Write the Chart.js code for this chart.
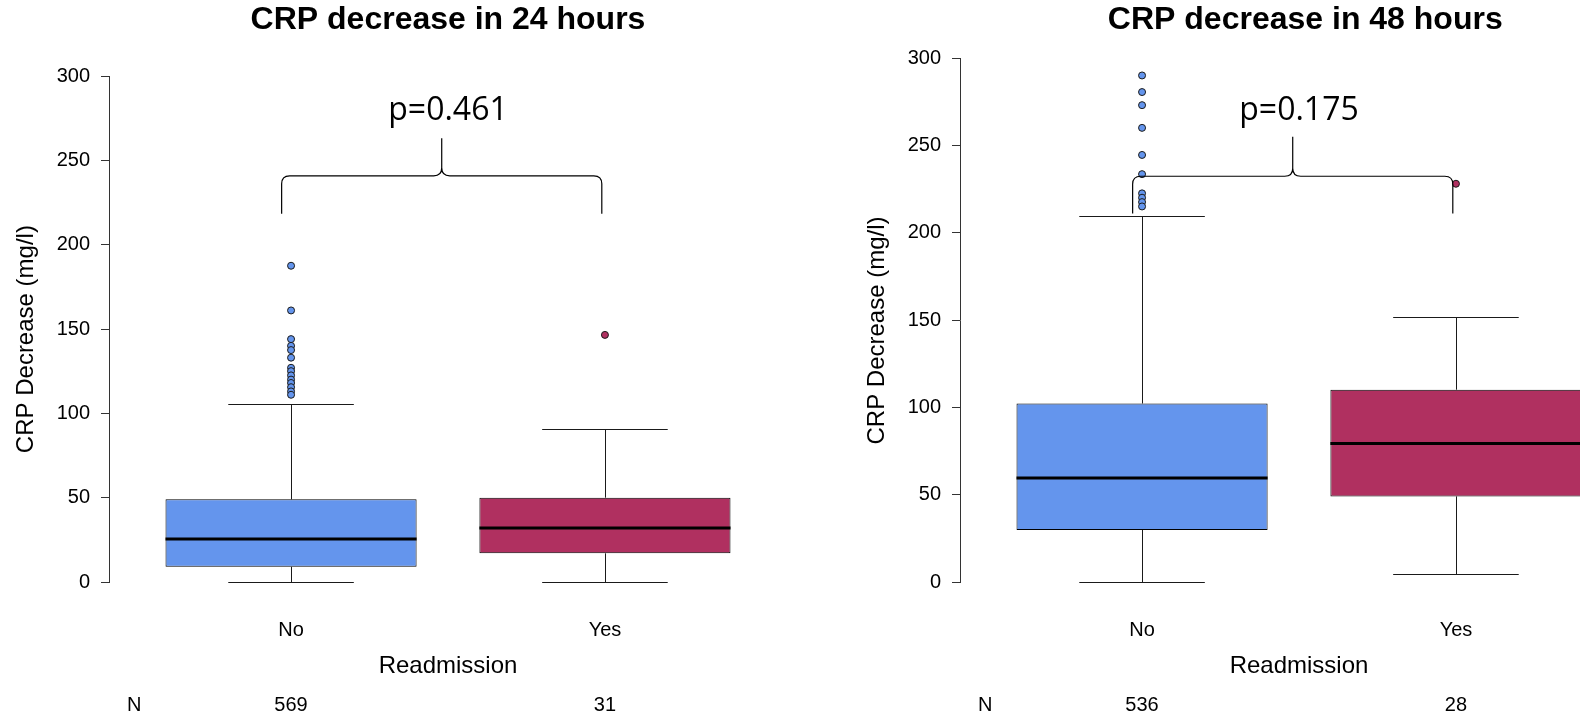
<!DOCTYPE html>
<html>
<head>
<meta charset="utf-8">
<script src="https://cdn.jsdelivr.net/npm/chart.js@4.4.1/dist/chart.umd.min.js"></script>
<style>
  html, body { margin: 0; padding: 0; width: 1580px; height: 719px; overflow: hidden; background: #fff; }
  #w1 { position: absolute; left: 1px; top: 0; width: 850px; height: 719px; }
  #w2 { position: absolute; left: 852px; top: 0; width: 850px; height: 719px; }
</style>
</head>
<body>
<div id="w1"><canvas id="c1" width="850" height="719"></canvas></div>
<div id="w2"><canvas id="c2" width="850" height="719"></canvas></div>
<script>
// ---------------- data ----------------
const categories = ['No', 'Yes'];
const yTickValues = [0, 50, 100, 150, 200, 250, 300];

// CRP decrease in 24 hours
const whiskerLow24 = [0, 0];
const q1_24 = [9.0, 17.0];
const median24 = [25.5, 32.0];
const q3_24 = [49.0, 50.0];
const whiskerHigh24 = [105.5, 91.0];
const outliersNo24 = [187.5, 161, 144, 140, 137.5, 133, 127, 125, 122.5, 120, 118, 115.5, 113, 111];
const outliersYes24 = [146.5];
const n24 = [569, 31];
const p24 = 'p=0.461';

// CRP decrease in 48 hours
const whiskerLow48 = [0, 4.8];
const q1_48 = [29.8, 49.0];
const median48 = [59.6, 79.3];
const q3_48 = [102.2, 110.1];
const whiskerHigh48 = [209.7, 151.7];
const outliersNo48 = [290, 280.5, 273, 260, 244.5, 233.5, 222.5, 220, 217.5, 215];
const outliersYes48 = [228];
const n48 = [536, 28];
const p48 = 'p=0.175';

// ---------------- styles ----------------
const boxColors = ['#6495ED', '#B03060'];
const FONT = "'Liberation Sans', Arial, sans-serif";

function makeChart(canvasId, o) {
  const boxData = categories.map((c, i) => ({ x: i + 1, y: [o.q1[i], o.q3[i]] }));
  const outData = [];
  const outColors = [];
  o.outliers.forEach((arr, i) => arr.forEach(v => { outData.push({ x: i + 1, y: v }); outColors.push(boxColors[i]); }));

  const boxPlugin = {
    id: 'boxExtras',
    beforeDatasetsDraw(chart) {
      const ctx = chart.ctx, xs = chart.scales.x, ys = chart.scales.y;
      ctx.save();
      ctx.strokeStyle = '#1a1a1a';
      ctx.lineWidth = 1;
      categories.forEach((c, i) => {
        const x = Math.round(xs.getPixelForValue(i + 1)) + 0.5;
        const xl = xs.getPixelForValue(i + 1 - 0.2), xr = xs.getPixelForValue(i + 1 + 0.2);
        const yHi = Math.round(ys.getPixelForValue(o.hi[i])) + 0.5;
        const yLo = Math.round(ys.getPixelForValue(o.lo[i])) + 0.5;
        ctx.beginPath();
        ctx.moveTo(x, ys.getPixelForValue(o.q3[i])); ctx.lineTo(x, yHi);
        ctx.moveTo(x, ys.getPixelForValue(o.q1[i])); ctx.lineTo(x, yLo);
        ctx.moveTo(xl, yHi); ctx.lineTo(xr, yHi);
        ctx.moveTo(xl, yLo); ctx.lineTo(xr, yLo);
        ctx.stroke();
      });
      ctx.restore();
    },
    afterDatasetsDraw(chart) {
      const ctx = chart.ctx, xs = chart.scales.x, ys = chart.scales.y;
      ctx.save();
      // medians
      ctx.strokeStyle = '#000';
      ctx.lineWidth = 3;
      categories.forEach((c, i) => {
        const xl = xs.getPixelForValue(i + 1 - 0.4), xr = xs.getPixelForValue(i + 1 + 0.4);
        const y = ys.getPixelForValue(o.median[i]);
        ctx.beginPath(); ctx.moveTo(xl, y); ctx.lineTo(xr, y); ctx.stroke();
      });
      // brace
      const b = o.brace;
      const xa = xs.getPixelForValue(b.from), xb = xs.getPixelForValue(b.to);
      const xm = (xa + xb) / 2;
      const yH = ys.getPixelForValue(b.y), yE = ys.getPixelForValue(b.end), yP = ys.getPixelForValue(b.peak);
      const r = 8;
      ctx.strokeStyle = '#000';
      ctx.lineWidth = 1.2;
      ctx.beginPath();
      ctx.moveTo(xa, yE);
      ctx.lineTo(xa, yH + r);
      ctx.quadraticCurveTo(xa, yH, xa + r, yH);
      ctx.lineTo(xm - r, yH);
      ctx.quadraticCurveTo(xm, yH, xm, yH - r);
      ctx.lineTo(xm, yP);
      ctx.moveTo(xm, yH - r);
      ctx.quadraticCurveTo(xm, yH, xm + r, yH);
      ctx.lineTo(xb - r, yH);
      ctx.quadraticCurveTo(xb, yH, xb, yH + r);
      ctx.lineTo(xb, yE);
      ctx.stroke();
      // p text
      ctx.fillStyle = '#000';
      ctx.font = "32px 'Open Sans', sans-serif";
      ctx.textAlign = 'center';
      ctx.textBaseline = 'alphabetic';
      ctx.fillText(o.p, xs.getPixelForValue(1.5), ys.getPixelForValue(b.textY));
      ctx.restore();
    },
    afterDraw(chart) {
      const ctx = chart.ctx, xs = chart.scales.x, ys = chart.scales.y;
      ctx.save();
      ctx.fillStyle = '#000';
      // main title
      ctx.font = 'bold 32px ' + FONT;
      ctx.textAlign = 'center';
      ctx.textBaseline = 'alphabetic';
      ctx.fillText(o.title, xs.getPixelForValue(o.titleX), 29);
      // y-axis title
      ctx.save();
      ctx.font = '24px ' + FONT;
      ctx.textBaseline = 'middle';
      ctx.translate(chart.chartArea.left - 83, ys.getPixelForValue(144));
      ctx.rotate(-Math.PI / 2);
      ctx.fillText('CRP Decrease (mg/l)', 0, 0);
      ctx.restore();
      // N row
      ctx.font = '20px ' + FONT;
      ctx.textAlign = 'center';
      ctx.textBaseline = 'middle';
      const y = chart.height - 14;
      ctx.fillText('N', xs.getPixelForValue(0.5), y);
      o.n.forEach((v, i) => ctx.fillText(String(v), xs.getPixelForValue(i + 1), y));
      ctx.restore();
    }
  };

  return new Chart(document.getElementById(canvasId), {
    type: 'bar',
    data: {
      datasets: [
        {
          type: 'scatter', data: outData, order: 0,
          pointRadius: 3.5, pointBackgroundColor: outColors, pointBorderColor: '#1a1a1a', pointBorderWidth: 1
        },
        {
          type: 'bar', data: boxData, order: 1,
          backgroundColor: boxColors, borderColor: '#000', borderWidth: 1, borderSkipped: false,
          categoryPercentage: 1, barPercentage: 0.8
        }
      ]
    },
    options: {
      responsive: false,
      animation: false,
      devicePixelRatio: 1,
      layout: { padding: { left: 0, right: 64, top: o.top, bottom: 0 } },
      plugins: {
        legend: { display: false },
        tooltip: { enabled: false },
        title: { display: false }
      },
      scales: {
        x: {
          type: 'linear', min: 0.42, max: 2.58, offset: false,
          grid: { display: false, drawTicks: false },
          border: { display: false },
          afterBuildTicks: s => { s.ticks = categories.map((c, i) => ({ value: i + 1 })); },
          afterFit: s => { s.height = 137; },
          ticks: {
            autoSkip: false, maxRotation: 0, padding: 36, color: '#000',
            font: { family: FONT, size: 20 },
            callback: v => categories[v - 1]
          },
          title: { display: true, text: 'Readmission', color: '#000', font: { family: FONT, size: 24 }, padding: 38.6 }
        },
        y: {
          min: 0, max: 300,
          afterBuildTicks: s => { s.ticks = yTickValues.map(v => ({ value: v })); },
          afterFit: s => { s.width = 108; },
          grid: { drawOnChartArea: false, drawTicks: true, tickLength: 8, color: '#333' },
          border: { display: true, color: '#333', width: 1 },
          ticks: { padding: 11, color: '#000', font: { family: FONT, size: 20 }, callback: v => String(v) },
          title: { display: false }
        }
      }
    },
    plugins: [boxPlugin]
  });
}

makeChart('c1', {
  title: 'CRP decrease in 24 hours', titleX: 1.5, top: 76,
  lo: whiskerLow24, q1: q1_24, median: median24, q3: q3_24, hi: whiskerHigh24,
  outliers: [outliersNo24, outliersYes24], n: n24, p: p24,
  brace: { from: 0.97, to: 1.99, y: 240.8, end: 218.3, peak: 263.1, textY: 274.0 }
});
makeChart('c2', {
  title: 'CRP decrease in 48 hours', titleX: 1.52, top: 58,
  lo: whiskerLow48, q1: q1_48, median: median48, q3: q3_48, hi: whiskerHigh48,
  outliers: [outliersNo48, outliersYes48], n: n48, p: p48,
  brace: { from: 0.97, to: 1.99, y: 232.3, end: 211.0, peak: 254.9, textY: 264.6 }
});
</script>
</body>
</html>
